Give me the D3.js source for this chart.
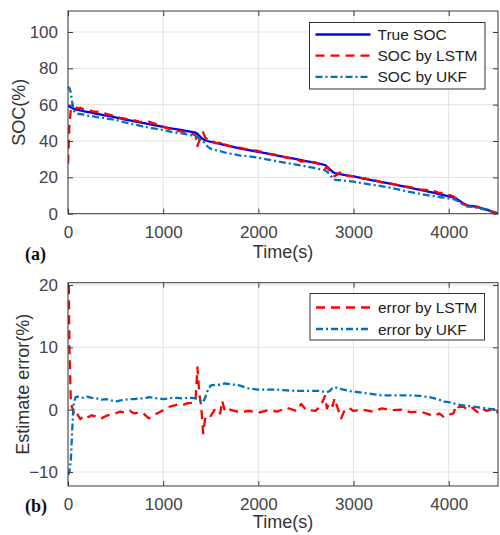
<!DOCTYPE html>
<html><head><meta charset="utf-8">
<script src="https://cdn.jsdelivr.net/npm/d3@7"></script>
<style>body{margin:0;background:#fff}svg{display:block}</style>
</head><body>
<svg id="c" width="500" height="535"></svg>
<script>
const time = [0,5,15,30,45,60,80,100,130,160,200,250,300,350,400,450,500,550,600,650,700,750,800,850,900,950,1000,1050,1100,1150,1200,1250,1300,1340,1360,1380,1400,1420,1440,1470,1500,1550,1600,1620,1650,1700,1800,1900,2000,2100,2200,2300,2400,2450,2500,2600,2650,2700,2720,2750,2780,2800,2830,2870,2900,2950,3000,3100,3200,3300,3400,3500,3600,3700,3800,3850,3900,3950,4000,4050,4080,4100,4150,4200,4250,4300,4350,4400,4450,4500,4520];
const trueSOC = [59.5,59.3,59.0,58.6,58.2,57.8,57.4,57.1,56.8,56.5,56.1,55.6,55.0,54.5,54.0,53.5,53.0,52.4,51.8,51.3,50.8,50.3,49.8,49.3,48.8,48.3,47.8,47.3,46.8,46.4,46.0,45.5,45.0,44.6,44.0,42.8,41.8,41.0,40.5,40.0,39.6,39.0,38.4,38.2,37.8,37.2,36.0,35.0,34.0,33.0,32.0,31.0,30.0,29.5,29.0,28.0,27.4,26.8,26.0,24.5,23.0,22.4,22.0,21.7,21.4,21.0,20.5,19.4,18.4,17.4,16.4,15.3,14.2,13.1,12.0,11.4,10.8,10.2,9.6,9.0,8.3,7.6,5.8,4.5,4.2,3.6,3.0,2.2,1.3,0.4,0.0];
const lstmSOC = [27.5,34.3,49.0,57.6,57.9,58.3,58.6,57.9,58.3,57.5,57.4,56.5,56.1,55.9,55.0,54.3,53.6,52.7,52.3,51.5,51.4,50.7,50.5,50.7,49.7,48.8,47.9,46.9,46.2,45.6,45.3,44.5,43.9,43.2,37.2,40.3,41.3,44.8,42.0,40.8,40.6,38.8,39.0,36.8,38.1,37.2,36.4,35.2,34.5,33.1,32.3,30.7,30.2,28.6,29.0,28.2,26.9,24.6,25.8,23.3,22.4,20.6,21.6,23.1,21.7,20.7,20.7,19.4,18.7,17.2,16.5,15.3,14.6,13.4,12.8,12.4,11.4,11.4,10.4,9.6,7.6,7.2,5.3,4.5,3.9,4.0,2.8,2.4,1.2,0.5,0.6];
const ukfSOC = [70.0,69.6,69.0,66.6,61.2,56.8,55.4,55.0,54.8,54.6,54.0,53.7,53.2,52.9,52.3,52.0,51.7,50.9,50.2,49.6,49.1,48.5,48.0,47.3,46.9,46.5,46.1,45.5,44.9,44.5,44.2,43.6,43.1,42.8,42.3,41.2,40.4,39.8,38.6,36.8,35.7,35.0,34.4,34.1,33.6,33.1,32.1,31.6,30.8,29.8,28.8,27.9,27.0,26.5,26.0,25.0,24.4,24.0,23.2,21.5,19.5,18.8,18.5,18.4,18.2,18.0,17.6,16.7,15.9,15.1,14.1,13.0,11.9,10.9,10.0,9.6,9.2,8.9,8.4,8.0,7.4,6.8,5.1,3.9,3.7,3.2,2.7,2.0,1.2,0.4,0.0];
const errLSTM = [32,25,10,1,0.3,-0.5,-1.2,-0.8,-1.5,-1.0,-1.3,-0.9,-1.1,-1.4,-1.0,-0.8,-0.6,-0.3,-0.5,-0.2,-0.6,-0.4,-0.7,-1.4,-0.9,-0.5,-0.1,0.4,0.6,0.8,0.7,1.0,1.1,1.4,6.8,2.5,0.5,-3.8,-1.5,-0.8,-1.0,0.2,-0.6,1.4,-0.3,0.0,-0.4,-0.2,-0.5,-0.1,-0.3,0.3,-0.2,0.9,0.0,-0.2,0.5,2.2,0.2,1.2,0.6,1.8,0.4,-1.4,-0.3,0.3,-0.2,0.0,-0.3,0.2,-0.1,0.0,-0.4,-0.3,-0.8,-1.0,-0.6,-1.2,-0.8,-0.6,0.7,0.4,0.5,0.0,0.3,-0.4,0.2,-0.2,0.1,-0.1,-0.6];
const errUKF = [-10.5,-10.3,-10.0,-8.0,-3.0,1.0,2.0,2.1,2.0,1.9,2.1,1.9,1.8,1.6,1.7,1.5,1.3,1.5,1.6,1.7,1.7,1.8,1.8,2.0,1.9,1.8,1.7,1.8,1.9,1.9,1.8,1.9,1.9,1.8,1.7,1.6,1.4,1.2,1.9,3.2,3.9,4.0,4.0,4.1,4.2,4.1,3.9,3.4,3.2,3.2,3.2,3.1,3.0,3.0,3.0,3.0,3.0,2.8,2.8,3.0,3.5,3.6,3.5,3.3,3.2,3.0,2.9,2.7,2.5,2.3,2.3,2.3,2.3,2.2,2.0,1.8,1.6,1.3,1.2,1.0,0.9,0.8,0.7,0.6,0.5,0.4,0.3,0.2,0.1,0.0,0.0];
const xTicks = [0,1000,2000,3000,4000];
const yTicksA = [0,20,40,60,80,100];
const yTicksB = [-10,0,10,20];
const legendA = ["True SOC","SOC by LSTM","SOC by UKF"];
const legendB = ["error by LSTM","error by UKF"];

const BLUE="#0000ff", RED="#ff0000", UKF="#0072bd";
const styles = {
  "true": {color:BLUE, dash:null},
  "lstm": {color:RED, dash:"9,6"},
  "ukf": {color:UKF, dash:"7,3,2,3"}
};
const svg = d3.select("#c");
const FONT = "Arial, 'Liberation Sans', sans-serif";
const L = 68, R = 498;
const x = d3.scaleLinear().domain([0,4000]).range([L, 448.7]);

function panel(cfg){
  const {top, bottom, y, yTicks, series, legend, leg, ylabel, ylabelX, tag, tagY, xlabelY, id} = cfg;
  const g = svg.append("g");
  g.append("defs").append("clipPath").attr("id", id)
    .append("rect").attr("x", L).attr("y", top).attr("width", R-L).attr("height", bottom-top);
  // grid
  g.selectAll(".gx").data(xTicks).join("line")
    .attr("x1", d=>x(d)).attr("x2", d=>x(d)).attr("y1", top).attr("y2", bottom)
    .attr("stroke", "#e3e3e3").attr("stroke-width", 1);
  g.selectAll(".gy").data(yTicks).join("line")
    .attr("x1", L).attr("x2", R).attr("y1", d=>y(d)).attr("y2", d=>y(d))
    .attr("stroke", "#e3e3e3").attr("stroke-width", 1);
  // lines
  const plot = g.append("g").attr("clip-path", `url(#${id})`);
  series.forEach(s=>{
    const st = styles[s.style];
    const line = d3.line().x((d,i)=>x(time[i])).y(d=>y(d));
    plot.append("path").attr("d", line(s.values)).attr("fill","none")
      .attr("stroke", st.color).attr("stroke-width", 2.3)
      .attr("stroke-dasharray", st.dash).attr("stroke-linejoin","round");
  });
  // frame
  g.append("rect").attr("x", L).attr("y", top).attr("width", R-L).attr("height", bottom-top)
    .attr("fill","none").attr("stroke","#3a3a3a").attr("stroke-width",1);
  // axes with inward ticks
  const ax = d3.axisBottom(x).tickValues(xTicks).tickSize(-5).tickPadding(12).tickFormat(d3.format("d"));
  const gxa = g.append("g").attr("transform", `translate(0,${bottom})`).call(ax);
  const axT = d3.axisTop(x).tickValues(xTicks).tickSize(-5).tickFormat("");
  const gxt = g.append("g").attr("transform", `translate(0,${top})`).call(axT);
  const ay = d3.axisLeft(y).tickValues(yTicks).tickSize(-5).tickPadding(10).tickFormat(d3.format("d"));
  const gya = g.append("g").attr("transform", `translate(${L},0)`).call(ay);
  const ayR = d3.axisRight(y).tickValues(yTicks).tickSize(-5).tickFormat("");
  const gyr = g.append("g").attr("transform", `translate(${R},0)`).call(ayR);
  [gxa,gxt,gya,gyr].forEach(a=>{
    a.select(".domain").remove();
    a.selectAll("line").attr("stroke","#3a3a3a");
    a.selectAll("text").attr("fill","#444").style("font-family",FONT).style("font-size","17px");
  });
  // labels
  g.append("text").attr("x", (L+R)/2).attr("y", xlabelY).attr("text-anchor","middle")
    .attr("fill","#333").style("font-family",FONT).style("font-size","18px").text("Time(s)");
  g.append("text").attr("transform", `translate(${ylabelX},${(top+bottom)/2}) rotate(-90)`)
    .attr("text-anchor","middle").attr("fill","#333").style("font-family",FONT).style("font-size","18px").text(ylabel);
  g.append("text").attr("x", 25).attr("y", tagY).attr("fill","#111")
    .style("font-family","'Liberation Serif', 'Times New Roman', serif").style("font-weight","bold").style("font-size","18px").text(tag);
  // legend
  const lg = g.append("g");
  lg.append("rect").attr("x", leg.x).attr("y", leg.y).attr("width", leg.w).attr("height", leg.h)
    .attr("fill","#fff").attr("stroke","#333").attr("stroke-width",1);
  legend.forEach((name,i)=>{
    const st = styles[series[i].style];
    const yy = leg.y + leg.first + i*leg.step;
    lg.append("line").attr("x1", leg.x+leg.lx1).attr("x2", leg.x+leg.lx2).attr("y1", yy).attr("y2", yy)
      .attr("stroke", st.color).attr("stroke-width", 2.3).attr("stroke-dasharray", st.dash);
    lg.append("text").attr("x", leg.x+leg.tx).attr("y", yy+5.5).attr("fill","#222")
      .style("font-family",FONT).style("font-size","15.5px").text(name);
  });
}

const yA = d3.scaleLinear().domain([0,100]).range([213.7,32]);
panel({id:"clipA", top:11, bottom:213.7, y:yA, yTicks:yTicksA,
  series:[{style:"true",values:trueSOC},{style:"lstm",values:lstmSOC},{style:"ukf",values:ukfSOC}],
  legend:legendA, leg:{x:309.5,y:22.5,w:175.5,h:66.5,first:12,step:21.2,lx1:6,lx2:61,tx:68},
  ylabel:"SOC(%)", ylabelX:25, tag:"(a)", tagY:260, xlabelY:258});

const yB = d3.scaleLinear().domain([-10,20]).range([472,285]);
panel({id:"clipB", top:282.7, bottom:486, y:yB, yTicks:yTicksB,
  series:[{style:"lstm",values:errLSTM},{style:"ukf",values:errUKF}],
  legend:legendB, leg:{x:310,y:293.5,w:174.5,h:46.5,first:14,step:21.5,lx1:6,lx2:60,tx:68},
  ylabel:"Estimate error(%)", ylabelX:29, tag:"(b)", tagY:512, xlabelY:528});
</script>
</body></html>
